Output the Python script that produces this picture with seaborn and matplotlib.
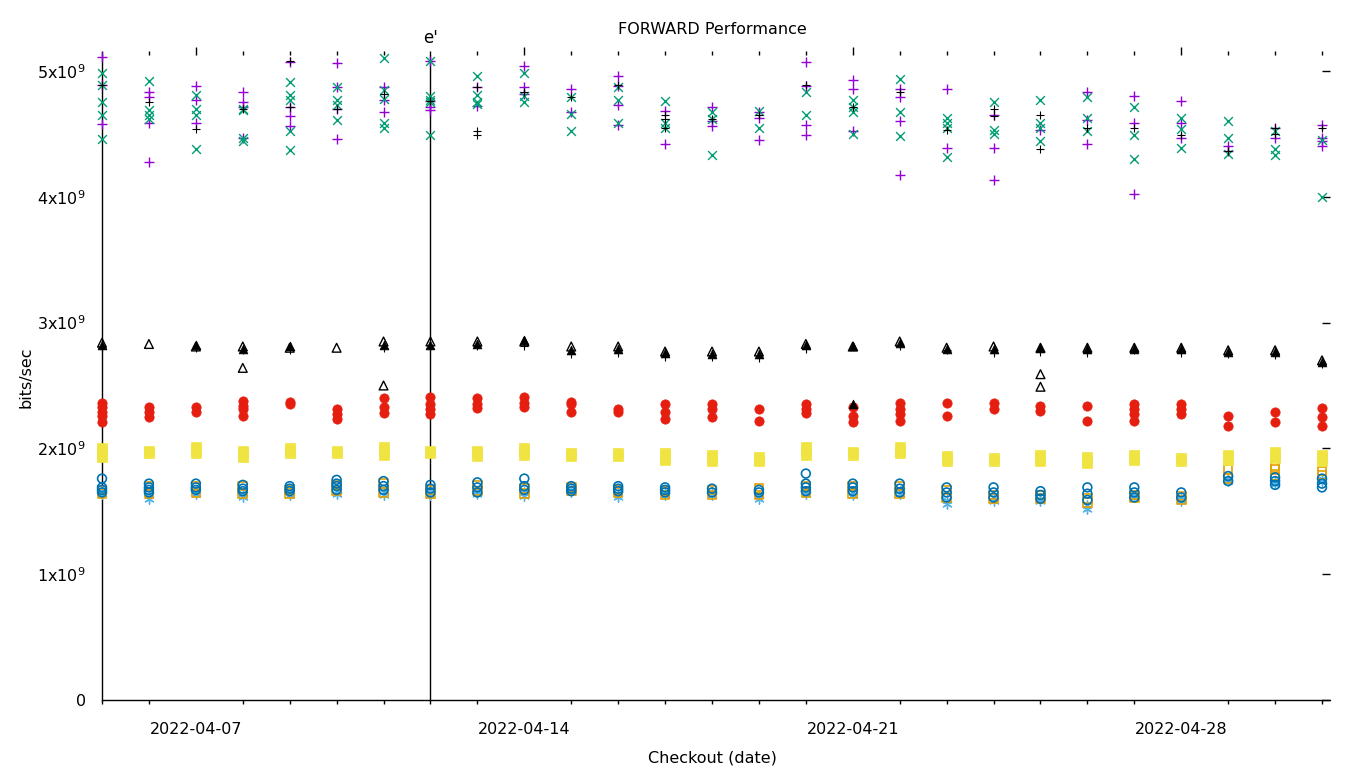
import numpy as np
import pandas as pd
import matplotlib
matplotlib.use("Agg")
import matplotlib.pyplot as plt
import matplotlib.dates as mdates
import seaborn as sns

# ---------------- data (values in units of 1e9 bits/sec) ----------------
start_date = "2022-04-05"
n_days = 27
event_date = "2022-04-12"
event_label = "e'"
title = "FORWARD Performance"
xlabel = "Checkout (date)"
ylabel = "bits/sec"
xtick_labels = ["2022-04-07", "2022-04-14", "2022-04-21", "2022-04-28"]
ytick_values = [0, 1, 2, 3, 4, 5]

purple_plus = [
    [5.11, 4.89, 4.58], [4.83, 4.79, 4.59, 4.28], [4.88, 4.77, 4.59],
    [4.83, 4.75, 4.71, 4.47], [5.07, 4.71, 4.64, 4.56], [5.06, 4.87, 4.70, 4.46],
    [4.87, 4.77, 4.67], [5.08, 4.76, 4.71, 4.69], [4.87, 4.72],
    [5.04, 4.87, 4.82], [4.86, 4.67], [4.96, 4.88, 4.73, 4.57],
    [4.68, 4.42], [4.71, 4.60, 4.56], [4.67, 4.63, 4.45],
    [5.07, 4.88, 4.57, 4.49], [4.93, 4.86, 4.52], [4.86, 4.79, 4.60, 4.17],
    [4.86, 4.39], [4.65, 4.39, 4.13], [4.53],
    [4.83, 4.61, 4.42], [4.80, 4.59, 4.02], [4.76, 4.59, 4.47],
    [4.40, 4.36], [4.55, 4.47], [4.57, 4.47, 4.44, 4.40],
]
green_x = [
    [4.98, 4.89, 4.75, 4.65, 4.46], [4.92, 4.69, 4.65, 4.62], [4.81, 4.70, 4.65, 4.38],
    [4.70, 4.69, 4.47, 4.44], [4.91, 4.81, 4.77, 4.52, 4.37], [4.87, 4.77, 4.73, 4.61],
    [5.10, 4.85, 4.78, 4.59, 4.55], [5.08, 4.80, 4.77, 4.75, 4.49], [4.96, 4.81, 4.75, 4.74],
    [4.98, 4.80, 4.75], [4.79, 4.66, 4.52], [4.87, 4.77, 4.59],
    [4.76, 4.59, 4.55], [4.67, 4.62, 4.33], [4.68, 4.55],
    [4.83, 4.65], [4.77, 4.71, 4.67, 4.50], [4.94, 4.67, 4.48],
    [4.63, 4.59, 4.55, 4.32], [4.75, 4.53, 4.50], [4.77, 4.59, 4.55, 4.44],
    [4.79, 4.63, 4.52], [4.71, 4.49, 4.30], [4.63, 4.54, 4.39],
    [4.60, 4.47, 4.34], [4.52, 4.38, 4.33], [4.45, 4.00],
]
black_plus_high = [
    [4.89], [4.75], [4.54], [4.70], [5.08, 4.71], [4.70], [4.82], [4.76],
    [4.87, 4.52, 4.49], [4.83], [4.79], [4.89], [4.65, 4.62, 4.55], [4.62],
    [4.65], [4.89], [4.71], [4.83], [4.53], [4.70, 4.64], [4.65, 4.38],
    [4.55], [4.55], [4.49], [4.36], [4.55, 4.50], [4.55],
]
light_blue_star = [
    [1.64, 1.66], [1.60, 1.63], [1.64, 1.66], [1.61, 1.64], [1.63, 1.65],
    [1.64, 1.66], [1.63, 1.65], [1.63, 1.65], [1.64, 1.66], [1.62, 1.65],
    [1.65, 1.67], [1.61, 1.64], [1.63, 1.65], [1.63, 1.65], [1.60, 1.63],
    [1.64, 1.66], [1.63, 1.65], [1.64, 1.66], [1.56, 1.59], [1.58, 1.61],
    [1.58, 1.60], [1.52, 1.55], [1.61, 1.63], [1.58, 1.60], [1.74, 1.76],
    [1.72, 1.74], [1.74, 1.76],
]
orange_open_square = [
    [1.67, 1.64], [1.70, 1.64], [1.70, 1.65], [1.70, 1.64], [1.67, 1.64],
    [1.71, 1.66], [1.72, 1.65], [1.67, 1.64], [1.71, 1.66], [1.68, 1.64],
    [1.69, 1.66], [1.67, 1.65], [1.66, 1.63], [1.67, 1.63], [1.68, 1.63],
    [1.70, 1.65], [1.70, 1.64], [1.70, 1.64], [1.67, 1.61], [1.63, 1.60],
    [1.63, 1.60], [1.60, 1.57], [1.63, 1.61], [1.62, 1.59], [1.83, 1.76],
    [1.86, 1.83, 1.78], [1.82, 1.79],
]
yellow_square = [
    [2.00, 1.98, 1.96, 1.93], [1.98, 1.96], [2.01, 1.99, 1.96], [1.98, 1.96, 1.93],
    [2.00, 1.98, 1.96], [1.98, 1.96], [2.01, 1.98, 1.95], [1.98, 1.96],
    [1.98, 1.96, 1.94], [2.00, 1.98, 1.95], [1.96, 1.94], [1.96, 1.94],
    [1.96, 1.94, 1.91], [1.95, 1.93, 1.90], [1.93, 1.91, 1.90], [2.01, 1.98, 1.95],
    [1.97, 1.95], [2.01, 1.98, 1.96], [1.94, 1.92, 1.90], [1.92, 1.90],
    [1.95, 1.93, 1.90], [1.93, 1.91, 1.88], [1.95, 1.93, 1.91], [1.92, 1.90],
    [1.95, 1.93, 1.91], [1.97, 1.94, 1.92], [1.95, 1.93, 1.90],
]
blue_open_circle = [
    [1.76, 1.69, 1.67, 1.65], [1.72, 1.69, 1.67, 1.65], [1.72, 1.69, 1.67],
    [1.71, 1.68, 1.66], [1.70, 1.68, 1.66], [1.75, 1.72, 1.70, 1.67],
    [1.74, 1.70, 1.67], [1.71, 1.68, 1.65], [1.73, 1.69, 1.65],
    [1.76, 1.70, 1.67], [1.70, 1.68, 1.66], [1.70, 1.68, 1.66],
    [1.69, 1.67, 1.65], [1.68, 1.65], [1.67, 1.65],
    [1.80, 1.72, 1.69, 1.66], [1.72, 1.69, 1.66], [1.72, 1.68, 1.65],
    [1.69, 1.65, 1.61], [1.69, 1.65, 1.61], [1.66, 1.63, 1.60],
    [1.69, 1.64, 1.59], [1.69, 1.65, 1.61], [1.65, 1.61],
    [1.78, 1.74], [1.77, 1.74, 1.71], [1.76, 1.72, 1.69],
]
red_filled_circle = [
    [2.36, 2.33, 2.29, 2.26, 2.21], [2.33, 2.29, 2.25], [2.33, 2.29],
    [2.38, 2.34, 2.31, 2.26], [2.37, 2.35], [2.31, 2.27, 2.23],
    [2.40, 2.33, 2.28], [2.41, 2.35, 2.31, 2.27], [2.40, 2.35, 2.32],
    [2.41, 2.36, 2.33], [2.37, 2.35, 2.29], [2.31, 2.29],
    [2.35, 2.29, 2.23], [2.35, 2.31, 2.25], [2.31, 2.22],
    [2.35, 2.31, 2.28], [2.33, 2.26, 2.21], [2.36, 2.31, 2.27, 2.22],
    [2.36, 2.26], [2.36, 2.31], [2.34, 2.30],
    [2.34, 2.22], [2.35, 2.31, 2.27, 2.22], [2.35, 2.31, 2.27],
    [2.26, 2.18], [2.29, 2.21], [2.32, 2.25, 2.18],
]
black_open_triangle = [
    [2.84], [2.83], [2.81], [2.81, 2.64], [2.80], [2.80], [2.85, 2.50],
    [2.85], [2.85], [2.85], [2.81], [2.81], [2.77], [2.77], [2.77], [2.83],
    [2.81], [2.85], [2.80], [2.81], [2.80, 2.59, 2.49], [2.80], [2.80],
    [2.80], [2.78], [2.78], [2.70],
]
black_filled_triangle = [
    [2.82], [], [2.82], [2.79], [2.81], [], [2.82], [2.82], [2.83], [2.86],
    [2.78], [2.79], [2.76], [2.75], [2.75], [2.82], [2.81, 2.35], [2.84],
    [2.79], [2.79], [2.80], [2.79], [2.79], [2.79], [2.77], [2.77], [2.69],
]
black_plus_low = [
    [2.80], [], [2.80], [2.78], [2.78], [], [2.80], [2.80], [2.81], [2.81],
    [2.75], [2.76], [2.73], [2.73], [2.72], [2.79], [], [2.81], [2.78],
    [2.76], [2.77], [2.76], [2.78], [2.76], [2.75], [2.74], [2.67],
]

# ---------------- build long table ----------------
dates = pd.date_range(start_date, periods=n_days, freq="D")
series = [
    ("purple_plus", purple_plus, dict(marker="+", color="#9400d3", s=50, linewidths=1.0)),
    ("green_x", green_x, dict(marker="x", color="#009e73", s=40, linewidths=1.0)),
    ("light_blue_star", light_blue_star, dict(marker=(6, 2, 0), color="#56b4e9", s=45, linewidths=1.0)),
    ("orange_open_square", orange_open_square, dict(marker="s", facecolors="none", edgecolors="#e69f00", s=38, linewidths=1.2)),
    ("yellow_square", yellow_square, dict(marker="s", color="#f0e442", edgecolors="#f0e442", s=42, linewidths=0.5)),
    ("blue_open_circle", blue_open_circle, dict(marker="o", facecolors="none", edgecolors="#0072b2", s=40, linewidths=1.2)),
    ("red_filled_circle", red_filled_circle, dict(marker="o", color="#e51e10", edgecolors="#e51e10", s=45, linewidths=0.5)),
    ("black_open_triangle", black_open_triangle, dict(marker="^", facecolors="none", edgecolors="black", s=40, linewidths=1.0)),
    ("black_plus_high", black_plus_high, dict(marker="+", color="black", s=40, linewidths=0.8)),
    ("black_filled_triangle", black_filled_triangle, dict(marker="^", color="black", edgecolors="black", s=40, linewidths=0.5)),
    ("black_plus_low", black_plus_low, dict(marker="+", color="black", s=40, linewidths=0.8)),
]
rows = []
for name, vals, _ in series:
    for d, day_vals in zip(dates, vals):
        for v in day_vals:
            rows.append({"series": name, "date": d, "value": v * 1e9})
df = pd.DataFrame(rows)

# ---------------- plot ----------------
sns.set_theme(style="white")
plt.rcParams["font.family"] = ["DejaVu Sans"]
plt.rcParams["text.color"] = "black"
plt.rcParams["axes.labelcolor"] = "black"
plt.rcParams["xtick.color"] = "black"
plt.rcParams["ytick.color"] = "black"
fig = plt.figure(figsize=(13.6, 7.68), dpi=100)
ax = fig.add_axes([102 / 1360, 1 - 700 / 768, (1322 - 102) / 1360, (700 - 55) / 768])

for name, _, kw in series:
    sub = df[df["series"] == name]
    sns.scatterplot(data=sub, x="date", y="value", ax=ax, legend=False,
                    clip_on=False, zorder=3, **kw)

ev = pd.Timestamp(event_date)
ax.axvline(ev, color="black", lw=1.0, zorder=2)
ax.text(ev, 1.012, event_label, transform=ax.get_xaxis_transform(),
        ha="center", va="bottom", fontsize=12, color="black")

ax.set_xlim(dates[0], dates[-1])
ax.set_ylim(0, 5.127e9)

ax.xaxis.set_major_locator(mdates.DayLocator(bymonthday=[7, 14, 21, 28]))
ax.xaxis.set_minor_locator(mdates.DayLocator())
ax.xaxis.set_major_formatter(mdates.DateFormatter("%Y-%m-%d"))
ax.set_yticks([v * 1e9 for v in ytick_values])
ax.set_yticklabels(["0"] + [r"$%d\mathrm{x}10^{9}$" % v for v in ytick_values[1:]])

for side in ["top", "right"]:
    ax.spines[side].set_visible(False)
for side in ["left", "bottom"]:
    ax.spines[side].set_linewidth(1.0)
    ax.spines[side].set_color("black")

ax.tick_params(axis="both", which="major", direction="out", length=5.5, width=1.0,
               color="black", labelcolor="black", labelsize=11.5, top=True, right=True, pad=6)
ax.tick_params(axis="x", which="minor", direction="out", length=3, width=1.0,
               color="black", top=True, bottom=True)
ax.tick_params(axis="x", which="major", pad=10)

ax.grid(False)
ax.set_title(title, fontsize=11.5, pad=15, color="black")
ax.set_xlabel(xlabel, fontsize=11.5, labelpad=10, color="black")
ax.set_ylabel(ylabel, fontsize=11.5, labelpad=3, color="black")

# extend the bottom axis line slightly past the last day, as in the reference
ax.plot([1.0, 1.0066], [0, 0], transform=ax.transAxes, color="black",
        lw=1.0, clip_on=False)

fig.savefig("out.png", dpi=100)
